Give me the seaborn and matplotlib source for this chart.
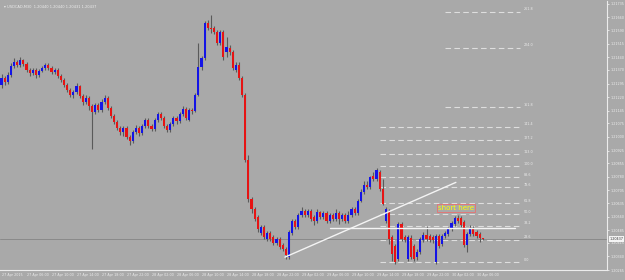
import numpy as np
import pandas as pd
import matplotlib
matplotlib.use("Agg")
import matplotlib.pyplot as plt
import seaborn as sns

opens = [1.21289,1.21327,1.21305,1.21344,1.21393,1.21415,1.21399,1.21426,1.21404,1.21371,
         1.21355,1.21371,1.21344,1.21366,1.21382,1.21399,1.21382,1.21360,1.21371,1.21338,
         1.21316,1.21289,1.21261,1.21234,1.21250,1.21283,1.21228,1.21195,1.21217,1.21173,
         1.21140,1.21178,1.21151,1.21195,1.21217,1.21162,1.21118,1.21085,1.21052,1.21030,
         1.21052,1.20997,1.20975,1.21030,1.21052,1.21024,1.21063,1.21096,1.21063,1.21046,
         1.21096,1.21129,1.21107,1.21063,1.21041,1.21074,1.21107,1.21090,1.21129,1.21156,
         1.21096,1.21151,1.21145,1.21234,1.21388,1.21437,1.21630,1.21603,1.21603,1.21581,
         1.21520,1.21581,1.21470,1.21492,1.21470,1.21371,1.21399,1.21327,1.21234,1.20875,
         1.20655,1.20600,1.20556,1.20468,1.20501,1.20435,1.20468,1.20446,1.20413,1.20435,
         1.20402,1.20379,1.20335,1.20468,1.20534,1.20501,1.20567,1.20589,1.20567,1.20589,
         1.20556,1.20534,1.20583,1.20556,1.20578,1.20534,1.20567,1.20545,1.20578,1.20545,
         1.20567,1.20534,1.20567,1.20600,1.20578,1.20644,1.20694,1.20732,1.20721,1.20787,
         1.20765,1.20809,1.20710,1.20534,1.20589,1.20446,1.20396,1.20324,1.20517,1.20446,
         1.20324,1.20440,1.20396,1.20335,1.20363,1.20429,1.20457,1.20451,1.20446,1.20308,
         1.20451,1.20407,1.20451,1.20462,1.20490,1.20517,1.20550,1.20550,1.20528,1.20402,
         1.20462,1.20495,1.20473,1.20462,1.20440]
highs = [1.21349,1.21338,1.21360,1.21410,1.21437,1.21426,1.21443,1.21432,1.21415,1.21382,
         1.21382,1.21382,1.21377,1.21393,1.21410,1.21410,1.21393,1.21382,1.21382,1.21349,
         1.21327,1.21300,1.21272,1.21261,1.21300,1.21289,1.21239,1.21234,1.21228,1.21184,
         1.21190,1.21190,1.21212,1.21234,1.21228,1.21173,1.21129,1.21096,1.21063,1.21063,
         1.21063,1.21013,1.21041,1.21068,1.21063,1.21074,1.21107,1.21107,1.21074,1.21107,
         1.21140,1.21140,1.21118,1.21074,1.21085,1.21118,1.21118,1.21140,1.21173,1.21167,
         1.21162,1.21162,1.21245,1.21520,1.21448,1.21641,1.21647,1.21674,1.21614,1.21592,
         1.21592,1.21592,1.21553,1.21509,1.21481,1.21415,1.21415,1.21338,1.21245,1.20903,
         1.20666,1.20611,1.20567,1.20512,1.20512,1.20479,1.20479,1.20457,1.20446,1.20446,
         1.20413,1.20390,1.20484,1.20545,1.20545,1.20578,1.20611,1.20600,1.20600,1.20600,
         1.20567,1.20600,1.20589,1.20589,1.20589,1.20578,1.20578,1.20600,1.20589,1.20578,
         1.20578,1.20589,1.20611,1.20611,1.20655,1.20710,1.20754,1.20754,1.20787,1.20809,
         1.20831,1.20820,1.20765,1.20611,1.20600,1.20457,1.20407,1.20528,1.20528,1.20457,
         1.20457,1.20457,1.20407,1.20379,1.20446,1.20473,1.20506,1.20462,1.20457,1.20462,
         1.20462,1.20462,1.20479,1.20501,1.20534,1.20561,1.20567,1.20561,1.20539,1.20473,
         1.20512,1.20506,1.20484,1.20473,1.20440]
lows = [1.21272,1.21289,1.21294,1.21333,1.21382,1.21388,1.21388,1.21393,1.21360,1.21338,
        1.21344,1.21327,1.21333,1.21360,1.21371,1.21371,1.21349,1.21349,1.21327,1.21305,
        1.21278,1.21250,1.21223,1.21217,1.21239,1.21217,1.21178,1.21184,1.21151,1.20931,
        1.21129,1.21140,1.21140,1.21184,1.21151,1.21107,1.21074,1.21041,1.21013,1.21008,
        1.20986,1.20953,1.20964,1.21019,1.21008,1.21013,1.21052,1.21052,1.21035,1.21035,
        1.21085,1.21096,1.21052,1.21030,1.21030,1.21063,1.21074,1.21079,1.21118,1.21096,
        1.21090,1.21129,1.21140,1.21228,1.21371,1.21426,1.21592,1.21575,1.21570,1.21509,
        1.21509,1.21426,1.21443,1.21454,1.21371,1.21360,1.21316,1.21223,1.20859,1.20638,
        1.20578,1.20534,1.20473,1.20457,1.20435,1.20424,1.20424,1.20402,1.20402,1.20379,
        1.20368,1.20324,1.20324,1.20457,1.20490,1.20490,1.20556,1.20556,1.20556,1.20534,
        1.20512,1.20523,1.20545,1.20545,1.20523,1.20523,1.20534,1.20534,1.20517,1.20534,
        1.20523,1.20523,1.20556,1.20567,1.20567,1.20638,1.20683,1.20710,1.20710,1.20754,
        1.20754,1.20699,1.20622,1.20523,1.20407,1.20313,1.20297,1.20313,1.20424,1.20418,
        1.20313,1.20324,1.20313,1.20319,1.20352,1.20418,1.20424,1.20418,1.20413,1.20297,
        1.20385,1.20396,1.20440,1.20451,1.20479,1.20506,1.20523,1.20501,1.20390,1.20363,
        1.20451,1.20451,1.20440,1.20418,1.20431]
closes = [1.21327,1.21305,1.21344,1.21393,1.21415,1.21399,1.21426,1.21404,1.21371,1.21355,
          1.21371,1.21344,1.21366,1.21382,1.21399,1.21382,1.21360,1.21371,1.21338,1.21316,
          1.21289,1.21261,1.21234,1.21250,1.21283,1.21228,1.21195,1.21217,1.21173,1.21140,
          1.21178,1.21151,1.21195,1.21217,1.21162,1.21118,1.21085,1.21052,1.21030,1.21052,
          1.20997,1.20975,1.21030,1.21052,1.21024,1.21063,1.21096,1.21063,1.21046,1.21096,
          1.21129,1.21107,1.21063,1.21041,1.21074,1.21107,1.21090,1.21129,1.21156,1.21107,
          1.21151,1.21145,1.21234,1.21388,1.21437,1.21630,1.21603,1.21597,1.21581,1.21520,
          1.21581,1.21443,1.21498,1.21470,1.21382,1.21399,1.21327,1.21234,1.20875,1.20655,
          1.20600,1.20545,1.20490,1.20501,1.20446,1.20468,1.20435,1.20413,1.20435,1.20390,
          1.20379,1.20346,1.20473,1.20534,1.20501,1.20567,1.20589,1.20567,1.20589,1.20545,
          1.20534,1.20583,1.20556,1.20578,1.20534,1.20567,1.20545,1.20578,1.20545,1.20567,
          1.20534,1.20567,1.20600,1.20578,1.20644,1.20694,1.20732,1.20721,1.20776,1.20765,
          1.20815,1.20710,1.20627,1.20600,1.20435,1.20352,1.20308,1.20517,1.20435,1.20429,
          1.20446,1.20335,1.20324,1.20363,1.20435,1.20457,1.20435,1.20429,1.20429,1.20451,
          1.20396,1.20451,1.20468,1.20490,1.20523,1.20550,1.20534,1.20512,1.20402,1.20462,
          1.20495,1.20462,1.20451,1.20440,1.20437]

price_ticks = [1.21735,1.21660,1.21590,1.21515,1.21440,1.21370,1.21295,1.21220,1.21145,1.21075,
               1.21000,1.20925,1.20855,1.20780,1.20705,1.20635,1.20560,1.20485,1.20415,1.20340,1.20265]
time_labels = ["27 Apr 2015","27 Apr 06:00","27 Apr 10:00","27 Apr 14:00","27 Apr 18:00",
               "27 Apr 22:00","28 Apr 02:00","28 Apr 06:00","28 Apr 10:00","28 Apr 14:00",
               "28 Apr 18:00","28 Apr 22:00","29 Apr 02:00","29 Apr 06:00","29 Apr 10:00",
               "29 Apr 14:00","29 Apr 18:00","29 Apr 22:00","30 Apr 02:00","30 Apr 06:00"]
fib_levels = [0.0, 23.6, 38.2, 50.0, 61.8, 78.6, 88.6, 100.0, 113.0, 127.2, 141.4, 161.8, 224.0, 261.8]
fib_low, fib_high = 1.20308, 1.20837
trend_start = (90.7, 1.20336)
trend_end = (145.4, 1.20749)
hline_price = 1.20496
header = "USDCAD,M30  1.20440 1.20440 1.20431 1.20437"
note = "short here"

BG = "#a9a9a9"
FG = "#ececec"
sns.set_theme(style="white", rc={"axes.facecolor": BG, "figure.facecolor": BG})
plt.rcParams['font.family'] = ['DejaVu Sans']

df = pd.DataFrame({"open": opens, "high": highs, "low": lows, "close": closes})
df["bar"] = np.arange(len(df))
df["up"] = df["close"] >= df["open"]

fig = plt.figure(figsize=(6.25, 2.8), dpi=100)
ax = fig.add_axes([0, 10/280, 607/625, 269/280])
ax.set_facecolor(BG)

ax.vlines(df["bar"], df["low"], df["high"], color="#5a5a5a", lw=0.8, zorder=2)
body_h = (df["close"] - df["open"]).abs().clip(lower=0.00002)
body_b = df[["open", "close"]].min(axis=1)
colors = np.where(df["up"], "#1414e6", "#e61414")
ax.bar(df["bar"], body_h, bottom=body_b, width=0.65, color=colors, linewidth=0, zorder=3)

# fibonacci levels
for lv in fib_levels:
    p = fib_low + (fib_high - fib_low) * lv / 100.0
    x0 = 142 if lv > 150 else 121
    ax.plot([x0, 166], [p, p], color="#dedede", lw=0.8, dashes=(5, 3), zorder=1)
    ax.text(167, p + 0.00002, f"{lv:.1f}", color=FG, fontsize=2.4, va="bottom", ha="left")

ax.plot([105, 164.3], [hline_price, hline_price], color="#f4f4f4", lw=1.0, zorder=4)
ax.plot([trend_start[0], trend_end[0]], [trend_start[1], trend_end[1]], color="#f4f4f4", lw=1.0, zorder=4)

last = closes[-1]
ax.axhline(last, color="#8a8a8a", lw=0.7, zorder=1)

ax.text(145.3, 1.20608, note, color="#ffff00", fontsize=5, ha="center", va="center",
        bbox=dict(boxstyle="square,pad=0.15", fc="none", ec="#e07878", lw=0.7), zorder=5)

ax.set_xlim(-0.48, 193.76)
ax.set_ylim(1.20269, 1.21751)

ax.yaxis.tick_right()
ax.set_yticks(price_ticks)
ax.set_yticklabels([f"{p:.5f}" for p in price_ticks])
ax.set_xticks(np.arange(len(time_labels)) * 8)
ax.set_xticklabels(time_labels, ha="left")
ax.tick_params(axis="both", colors=FG, labelsize=2.4, length=1.5, width=0.6, pad=1.0)
ax.tick_params(axis="x", pad=1)

for s in ["left", "top"]:
    ax.spines[s].set_visible(False)
for s in ["right", "bottom"]:
    ax.spines[s].set_color(FG)
    ax.spines[s].set_linewidth(0.8)

ax.text(0.006, 0.985, "\u25BE " + header, transform=ax.transAxes, color=FG, fontsize=2.6,
        ha="left", va="top")
ax.text(1.004, last, f"{last:.5f}", transform=ax.get_yaxis_transform(), color="#303030",
        fontsize=2.4, ha="left", va="center",
        bbox=dict(boxstyle="square,pad=0.2", fc="#f4f4f4", ec="none"), zorder=6)

fig.savefig("out.png", dpi=100, facecolor=BG)
